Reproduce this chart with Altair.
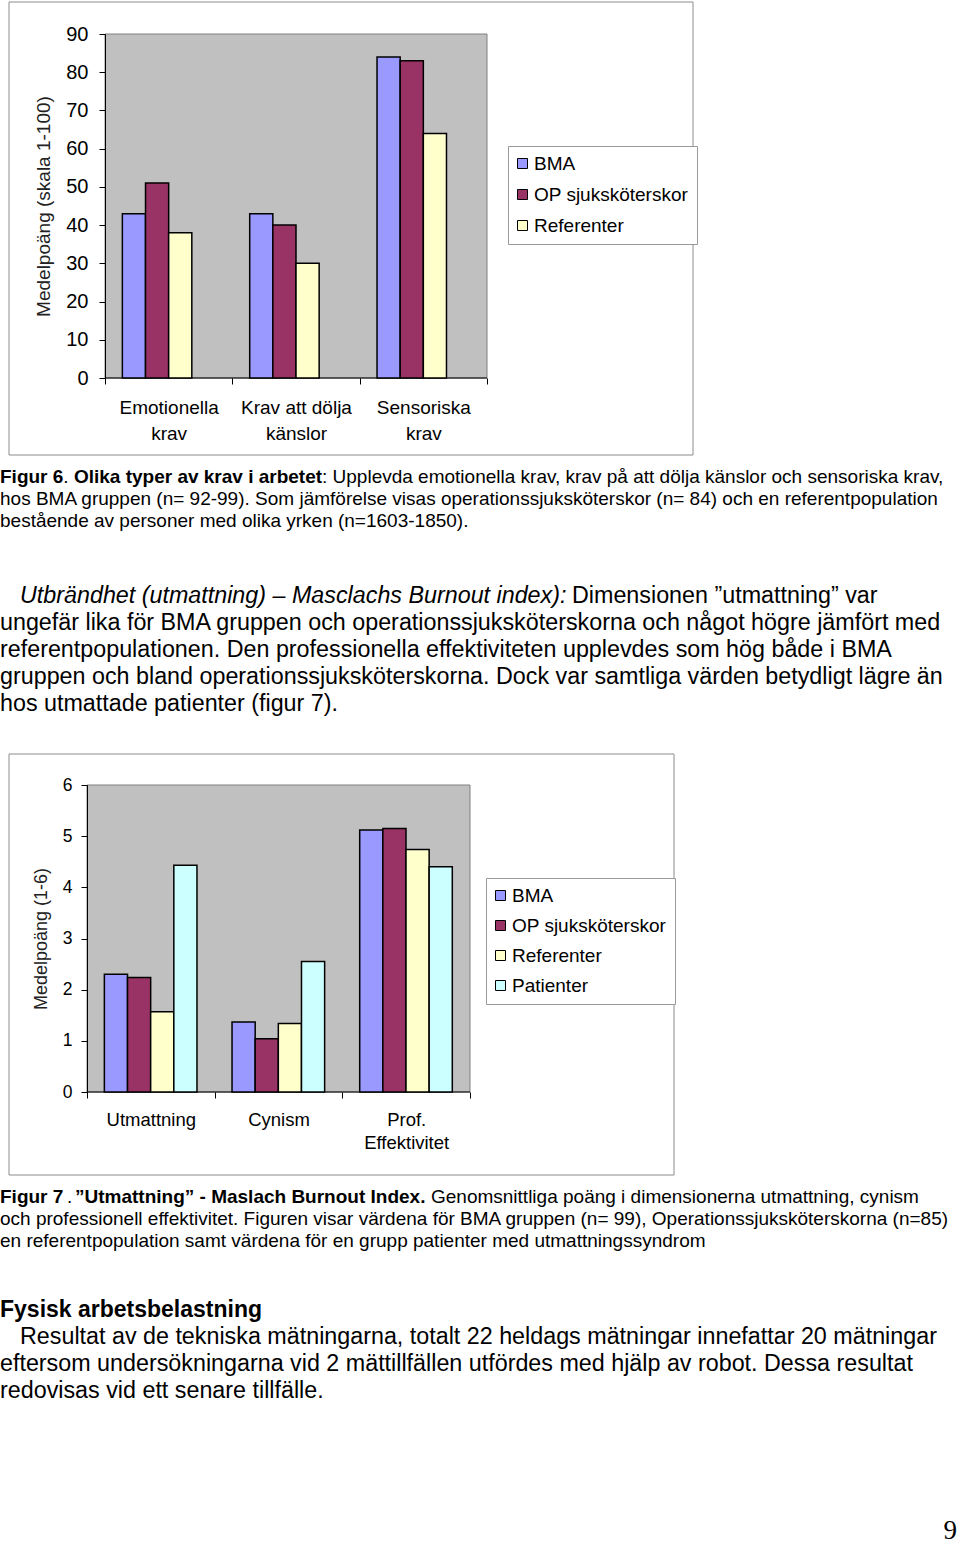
import altair as alt
import pandas as pd

FONT = "Liberation Sans"

# ---------------- data: Figur 6 ----------------
cats1 = ["Emotionella\nkrav", "Krav att dölja\nkänslor", "Sensoriska\nkrav"]
groups1 = ["BMA", "OP sjuksköterskor", "Referenter"]
bma1 = [43, 43, 84]
op1 = [51, 40, 83]
ref1 = [38, 30, 64]
colors1 = ["#9999FF", "#993366", "#FFFFCC"]

# ---------------- data: Figur 7 ----------------
cats2 = ["Utmattning", "Cynism", "Prof.\nEffektivitet"]
groups2 = ["BMA", "OP sjuksköterskor", "Referenter", "Patienter"]
bma2 = [2.30, 1.37, 5.12]
op2 = [2.24, 1.04, 5.15]
ref2 = [1.57, 1.34, 4.74]
pat2 = [4.43, 2.55, 4.40]
colors2 = ["#9999FF", "#993366", "#FFFFCC", "#CCFFFF"]

yticks1 = [0, 10, 20, 30, 40, 50, 60, 70, 80, 90]
yticks2 = [0, 1, 2, 3, 4, 5, 6]


def long(cats, groups, series):
    rows = []
    for g, vals in zip(groups, series):
        for c, v in zip(cats, vals):
            rows.append({"Kategori": c, "Grupp": g, "Medel": v})
    return pd.DataFrame(rows)


df1 = long(cats1, groups1, [bma1, op1, ref1])
df2 = long(cats2, groups2, [bma2, op2, ref2, pat2])

one = pd.DataFrame({"k": [0]})


def box(x1, x2, y1, y2, **kw):
    return alt.Chart(one).mark_rect(**kw).encode(
        x=alt.value(x1), x2=alt.value(x2), y=alt.value(y1), y2=alt.value(y2)
    )


def bar_chart(df, cats, groups, colors, ymax, yticks, ytitle, plot_left, plot_w,
              H, top, region_h, frame, leg, ylab_size, ylab_pad, xlab_size,
              xlab_pad, xlab_lh, title_size, title_pad, row_pad):
    W = plot_left + plot_w
    n = len(cats)
    step = plot_w / n
    pad_outer = plot_left / 2.0 / step
    bars = alt.Chart(df).mark_bar(stroke="black", strokeWidth=1.5).encode(
        x=alt.X("Kategori:N", sort=cats, title=None,
                scale=alt.Scale(paddingInner=0, paddingOuter=pad_outer, align=1),
                axis=alt.Axis(labelAngle=0, tickBand="extent", tickSize=6,
                              domain=False, tickColor="black", zindex=1,
                              labelFont=FONT, labelFontSize=xlab_size,
                              labelColor="black", labelPadding=xlab_pad,
                              labelBaseline="top", labelLineHeight=xlab_lh,
                              labelExpr="split(datum.label, '\\n')")),
        xOffset=alt.XOffset("Grupp:N", sort=groups,
                            scale=alt.Scale(paddingInner=0, paddingOuter=0.75)),
        y=alt.Y("Medel:Q", title=ytitle,
                scale=alt.Scale(domain=[0, ymax], nice=False),
                axis=alt.Axis(values=yticks, grid=False, tickSize=6,
                              offset=-plot_left, zindex=1,
                              domainColor="black", tickColor="black",
                              labelFont=FONT, labelFontSize=ylab_size,
                              labelColor="black", labelPadding=ylab_pad,
                              titleFont=FONT, titleFontSize=title_size,
                              titleFontWeight="normal", titleColor="#222222",
                              titlePadding=title_pad)),
        color=alt.Color("Grupp:N", sort=groups,
                        scale=alt.Scale(domain=groups, range=colors),
                        legend=alt.Legend(title=None, orient="none",
                                          legendX=leg[0], legendY=leg[1],
                                          symbolType="square", symbolSize=100,
                                          symbolStrokeColor="black",
                                          symbolStrokeWidth=1,
                                          symbolOffset=-3,
                                          labelFont=FONT, labelFontSize=19,
                                          labelColor="black", labelOffset=2,
                                          labelLimit=400, rowPadding=row_pad,
                                          padding=8, strokeColor="#999999",
                                          fillColor="white")),
    )
    region = box(0, 960, -top, region_h - top, opacity=0)
    fr = box(frame[0], frame[1], frame[2], frame[3], fill="white",
             stroke="#8c8c8c", strokeWidth=1)
    plot_bg = box(plot_left, W, 0, H, fill="#C0C0C0", stroke="#808080",
                  strokeWidth=1)
    base_line = alt.Chart(one).mark_rule(color="black", strokeWidth=1).encode(
        x=alt.value(plot_left), x2=alt.value(W), y=alt.value(H))
    return alt.layer(region, fr, plot_bg, base_line, bars).properties(
        width=W, height=H,
        view=alt.ViewBackground(strokeWidth=0),
    )


chart1 = bar_chart(df1, cats1, groups1, colors1, 90, yticks1,
                   "Medelpoäng (skala 1-100)", 105, 382, 344, 34, 460,
                   (9, 693, -32, 421), (508, 112), 20, 11, 19, 14, 26, 19, 12, 11)

chart2 = bar_chart(df2, cats2, groups2, colors2, 6, yticks2,
                   "Medelpoäng (1-6)", 87, 383, 307, 35, 430,
                   (9, 674, -31, 390), (486, 93), 17.5, 9, 18.5, 12, 23, 18, 12, 10)


def txt(lines, x, y, size, weight="normal", style="normal", lh=None,
        align="left", font=FONT):
    kw = dict(align=align, baseline="alphabetic", fontSize=size,
              fontWeight=weight, fontStyle=style, font=font, color="black")
    if lh:
        kw["lineHeight"] = lh
    text = lines if len(lines) > 1 else lines[0]
    return alt.Chart(one).mark_text(**kw).encode(
        x=alt.value(x), y=alt.value(y), text=alt.value(text))


CAP = 19
PAR = 23.3

textB = alt.layer(
    box(0, 960, 0, 290, opacity=0),
    txt(["Figur 6"], 0, 23, CAP, weight="bold"),
    txt(["."], 63.3, 23, CAP),
    txt(["Olika typer av krav i arbetet"], 73.9, 23, CAP, weight="bold"),
    txt([": Upplevda emotionella krav, krav på att dölja känslor och sensoriska krav,"],
        322, 23, CAP),
    txt(["hos BMA gruppen (n= 92-99). Som jämförelse visas operationssjuksköterskor (n= 84) och en referentpopulation",
         "bestående av personer med olika yrken (n=1603-1850)."], 0, 45, CAP, lh=22),
    txt(["Utbrändhet (utmattning) – Masclachs Burnout index):"], 20, 143, PAR,
        style="italic"),
    txt(["Dimensionen ”utmattning” var"], 572, 143, PAR),
    txt(["ungefär lika för BMA gruppen och operationssjuksköterskorna och något högre jämfört med",
         "referentpopulationen. Den professionella effektiviteten upplevdes som hög både i BMA",
         "gruppen och bland operationssjuksköterskorna. Dock var samtliga värden betydligt lägre än",
         "hos utmattade patienter (figur 7)."], 0, 170, PAR, lh=27),
).properties(width=960, height=290, view=alt.ViewBackground(strokeWidth=0))

textD = alt.layer(
    box(0, 960, 0, 366, opacity=0),
    txt(["Figur 7"], 0, 23, CAP, weight="bold"),
    txt(["."], 67, 23, CAP),
    txt(["”Utmattning” - Maslach Burnout Index."], 75, 23, CAP, weight="bold"),
    txt(["Genomsnittliga poäng i dimensionerna utmattning, cynism"], 431, 23, CAP),
    txt(["och professionell effektivitet. Figuren visar värdena för BMA gruppen (n= 99), Operationssjuksköterskorna (n=85)",
         "en referentpopulation samt värdena för en grupp patienter med utmattningssyndrom"],
        0, 45, CAP, lh=22),
    txt(["Fysisk arbetsbelastning"], 0, 137, 23, weight="bold"),
    txt(["Resultat av de tekniska mätningarna, totalt 22 heldags mätningar innefattar 20 mätningar"],
        20, 164, PAR),
    txt(["eftersom undersökningarna vid 2 mättillfällen utfördes med hjälp av robot. Dessa resultat",
         "redovisas vid ett senare tillfälle."], 0, 191, PAR, lh=27),
    txt(["9"], 957, 359, 27, align="right", font="Liberation Serif"),
).properties(width=960, height=366, view=alt.ViewBackground(strokeWidth=0))

chart = alt.vconcat(chart1, textB, chart2, textD, spacing=0).resolve_scale(
    color="independent"
).properties(padding=0, background="white")

chart.save("out.html", embed_options={"renderer": "svg", "actions": False})
